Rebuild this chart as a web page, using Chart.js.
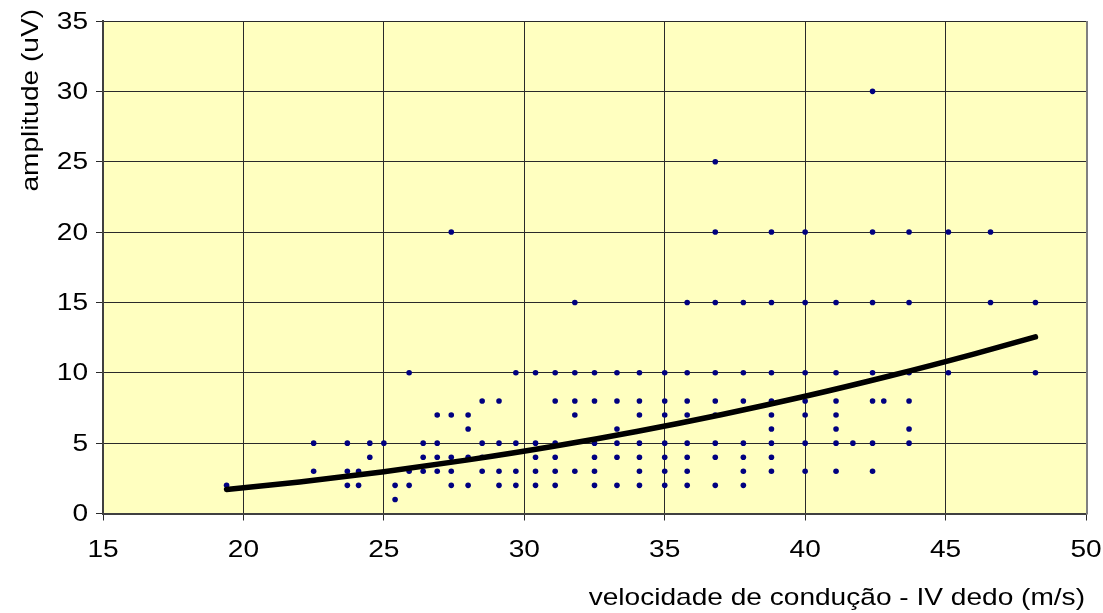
<!DOCTYPE html>
<html>
<head>
<meta charset="utf-8">
<script src="https://cdn.jsdelivr.net/npm/chart.js@4/dist/chart.umd.min.js"></script>
<style>
  html, body { margin: 0; padding: 0; background: #ffffff; }
  #wrap { width: 1103px; height: 613px; }
</style>
</head>
<body>
<div id="wrap"><canvas id="c" width="1103" height="613"></canvas></div>
<script>
// Conduction velocity (m/s) and amplitude (uV), one entry per subject, grouped by velocity column
const velocity = [
  19.4,
  22.5, 22.5,
  23.7, 23.7, 23.7,
  24.1, 24.1,
  24.5, 24.5,
  25.0,
  25.4, 25.4,
  25.9, 25.9, 25.9,
  26.4, 26.4, 26.4,
  26.9, 26.9, 26.9, 26.9,
  27.4, 27.4, 27.4, 27.4, 27.4,
  28.0, 28.0, 28.0, 28.0,
  28.5, 28.5, 28.5, 28.5,
  29.1, 29.1, 29.1, 29.1,
  29.7, 29.7, 29.7, 29.7,
  30.4, 30.4, 30.4, 30.4, 30.4,
  31.1, 31.1, 31.1, 31.1, 31.1, 31.1,
  31.8, 31.8, 31.8, 31.8, 31.8,
  32.5, 32.5, 32.5, 32.5, 32.5, 32.5,
  33.3, 33.3, 33.3, 33.3, 33.3, 33.3,
  34.1, 34.1, 34.1, 34.1, 34.1, 34.1, 34.1,
  35.0, 35.0, 35.0, 35.0, 35.0, 35.0, 35.0,
  35.8, 35.8, 35.8, 35.8, 35.8, 35.8, 35.8, 35.8,
  36.8, 36.8, 36.8, 36.8, 36.8, 36.8, 36.8, 36.8, 36.8,
  37.8, 37.8, 37.8, 37.8, 37.8, 37.8, 37.8,
  38.8, 38.8, 38.8, 38.8, 38.8, 38.8, 38.8, 38.8, 38.8,
  40.0, 40.0, 40.0, 40.0, 40.0, 40.0, 40.0,
  41.1, 41.1, 41.1, 41.1, 41.1, 41.1, 41.1,
  41.7,
  42.4, 42.4, 42.4, 42.4, 42.4, 42.4, 42.4,
  42.8,
  43.7, 43.7, 43.7, 43.7, 43.7, 43.7,
  45.1, 45.1,
  46.6, 46.6,
  48.2, 48.2
];
const amplitude = [
  2,
  5, 3,
  5, 3, 2,
  3, 2,
  5, 4,
  5,
  2, 1,
  10, 3, 2,
  5, 4, 3,
  7, 5, 4, 3,
  20, 7, 4, 3, 2,
  7, 6, 4, 2,
  8, 5, 4, 3,
  8, 5, 3, 2,
  10, 5, 3, 2,
  10, 5, 4, 3, 2,
  10, 8, 5, 4, 3, 2,
  15, 10, 8, 7, 3,
  10, 8, 5, 4, 3, 2,
  10, 8, 6, 5, 4, 2,
  10, 8, 7, 5, 4, 3, 2,
  10, 8, 7, 5, 4, 3, 2,
  15, 10, 8, 7, 5, 4, 3, 2,
  25, 20, 15, 10, 8, 7, 5, 4, 2,
  15, 10, 8, 5, 4, 3, 2,
  20, 15, 10, 8, 7, 6, 5, 4, 3,
  20, 15, 10, 8, 7, 5, 3,
  15, 10, 8, 7, 6, 5, 3,
  5,
  30, 20, 15, 10, 8, 5, 3,
  8,
  20, 15, 10, 8, 6, 5,
  20, 10,
  20, 15,
  15, 10
];

// Trend curve, sampled along its length
const trendX = [19.4, 22, 25, 28, 31, 34, 37, 40, 43, 46, 48.2];
const trendY = [1.70, 2.24, 2.97, 3.81, 4.76, 5.83, 7.02, 8.33, 9.77, 11.33, 12.55];

// Axis ticks and titles
const xTicks = [15, 20, 25, 30, 35, 40, 45, 50];
const yTicks = [0, 5, 10, 15, 20, 25, 30, 35];
const xTitle = 'velocidade de condução - IV dedo (m/s)';
const yTitle = 'amplitude (uV)';

const points = velocity.map((v, i) => ({ x: v, y: amplitude[i] }));
const trend = trendX.map((v, i) => ({ x: v, y: trendY[i] }));

const FONT = "'Liberation Sans', Arial, sans-serif";
const TEXT_SIZE = 24;
const TEXT_WIDEN = 1.17;   // wide-set lettering

// yellow plot area and grey right-hand frame
const plotBackground = {
  id: 'plotBackground',
  beforeDraw(chart) {
    const { ctx, chartArea: a } = chart;
    ctx.save();
    ctx.fillStyle = '#FFFFC0';
    ctx.fillRect(a.left, a.top, a.right - a.left, a.bottom - a.top);
    ctx.restore();
  },
  afterDraw(chart) {
    const { ctx, chartArea: a } = chart;
    ctx.save();
    ctx.strokeStyle = '#808080';
    ctx.lineWidth = 2;
    ctx.beginPath();
    ctx.moveTo(a.right + 1, a.top);
    ctx.lineTo(a.right + 1, a.bottom + 1);
    ctx.stroke();
    ctx.restore();
  }
};

// tick labels and axis titles, set in wide lettering
function wideText(ctx, text, x, y, align, rotate) {
  ctx.save();
  ctx.translate(x, y);
  if (rotate) ctx.rotate(-Math.PI / 2);
  ctx.scale(TEXT_WIDEN, 1);
  ctx.textAlign = align;
  ctx.fillText(text, 0, 0);
  ctx.restore();
}

const axisText = {
  id: 'axisText',
  afterDraw(chart) {
    const { ctx } = chart;
    const xs = chart.scales.x, ys = chart.scales.y;
    ctx.save();
    ctx.fillStyle = '#000000';
    ctx.font = TEXT_SIZE + 'px ' + FONT;
    ctx.textBaseline = 'middle';
    yTicks.forEach(v => wideText(ctx, String(v), 88, ys.getPixelForValue(v) + 1, 'right', false));
    xTicks.forEach(v => wideText(ctx, String(v), xs.getPixelForValue(v), 550, 'center', false));
    wideText(ctx, xTitle, 1085, 598, 'right', false);
    wideText(ctx, yTitle, 31, 9, 'right', true);
    ctx.restore();
  }
};

new Chart(document.getElementById('c'), {
  type: 'scatter',
  data: {
    datasets: [
      {
        label: 'trend',
        data: trend,
        showLine: true,
        borderColor: '#000000',
        borderWidth: 5.5,
        borderCapStyle: 'round',
        pointRadius: 0,
        cubicInterpolationMode: 'monotone',
        fill: false,
        order: 0
      },
      {
        label: 'amplitude',
        data: points,
        backgroundColor: '#000080',
        borderColor: '#000080',
        borderWidth: 0,
        pointRadius: 2.8,
        pointHoverRadius: 2.8,
        order: 1
      }
    ]
  },
  options: {
    responsive: false,
    animation: false,
    layout: { padding: { left: 0, right: 17, top: 21, bottom: 0 } },
    plugins: {
      legend: { display: false },
      tooltip: { enabled: false }
    },
    scales: {
      x: {
        type: 'linear',
        min: xTicks[0],
        max: xTicks[xTicks.length - 1],
        afterBuildTicks(scale) { scale.ticks = xTicks.map(v => ({ value: v })); },
        afterFit(scale) { scale.height = 99.5; },
        grid: { color: '#2a2a2a', lineWidth: 1, tickLength: 7, tickColor: '#2a2a2a' },
        border: { color: '#404040', width: 2 },
        ticks: { display: false }
      },
      y: {
        type: 'linear',
        min: yTicks[0],
        max: yTicks[yTicks.length - 1],
        afterBuildTicks(scale) { scale.ticks = yTicks.map(v => ({ value: v })); },
        afterFit(scale) { scale.width = 103; },
        grid: { color: '#2a2a2a', lineWidth: 1, tickLength: 7, tickColor: '#2a2a2a' },
        border: { color: '#404040', width: 2 },
        ticks: { display: false }
      }
    }
  },
  plugins: [plotBackground, axisText]
});
</script>
</body>
</html>
